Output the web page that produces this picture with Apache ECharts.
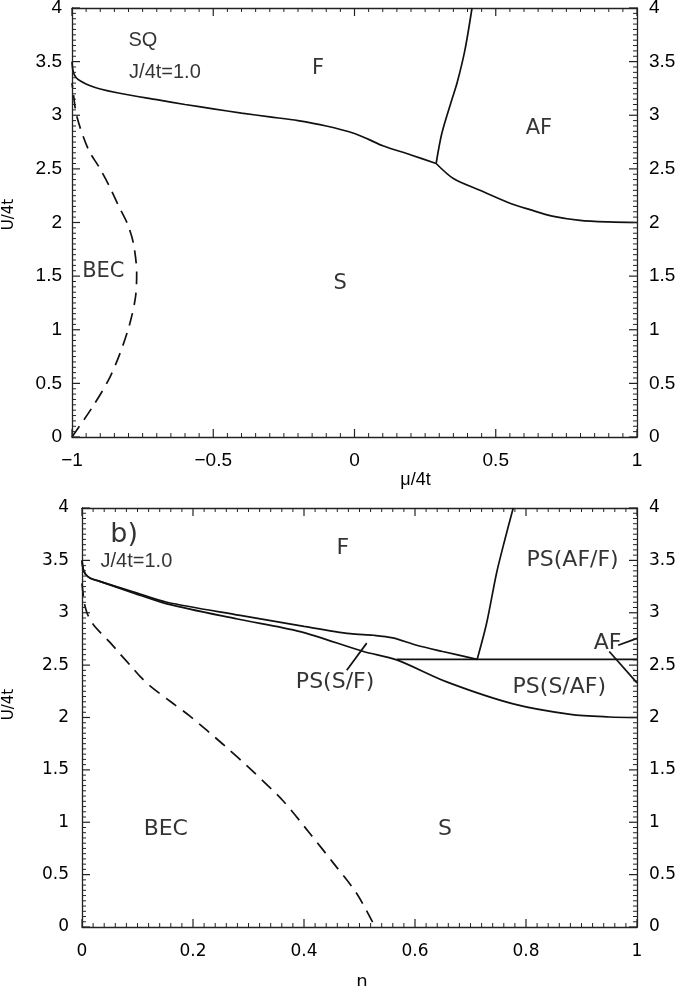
<!DOCTYPE html>
<html><head><meta charset="utf-8">
<script src="https://cdn.jsdelivr.net/npm/echarts@6/dist/echarts.min.js"></script>
<style>html,body{margin:0;padding:0;background:#fff}#c{width:685px;height:986px}</style>
</head><body><div id="c"></div>
<script>
// ---- Panel a) : U/4t vs mu/4t ----
const aSolidUpper = [[-1,3.5],[-0.998,3.44],[-0.994,3.39],[-0.985,3.35],[-0.97,3.32],[-0.94,3.28],[-0.9,3.245],[-0.84,3.21],[-0.7,3.145],[-0.6,3.10],[-0.5,3.06],[-0.4,3.02],[-0.3,2.985],[-0.2,2.95],[-0.1,2.90],[0,2.83],[0.05,2.775],[0.1,2.715],[0.2,2.63],[0.289,2.55]];
const aSolidAFLeft = [[0.289,2.55],[0.309,2.83],[0.344,3.14],[0.363,3.30],[0.391,3.61],[0.416,4.0]];
const aSolidAFLower = [[0.289,2.55],[0.35,2.41],[0.444,2.30],[0.55,2.18],[0.621,2.12],[0.7,2.06],[0.798,2.02],[0.9,2.005],[1,2.0]];
const aDashedBEC = [[-1,0],[-0.93,0.27],[-0.871,0.53],[-0.83,0.78],[-0.795,1.06],[-0.775,1.31],[-0.771,1.53],[-0.783,1.81],[-0.804,1.99],[-0.836,2.16],[-0.87,2.35],[-0.905,2.52],[-0.942,2.68],[-0.983,2.99],[-0.997,3.24],[-1,3.3]];
const aLabels = [[-0.749,3.70,'SQ'],[-0.671,3.40,'J/4t=1.0'],[-0.129,3.44,'F'],[0.653,2.88,'AF'],[-0.889,1.54,'BEC'],[-0.051,1.43,'S']];
const aXTicks = [-1,-0.5,0,0.5,1];
const aXMinorStep = 0.05;

// ---- Panel b) : U/4t vs n ----
const bSolidUpper = [[0,3.5],[0.002,3.42],[0.006,3.37],[0.015,3.33],[0.032,3.30],[0.092,3.20],[0.153,3.10],[0.285,2.975],[0.4,2.87],[0.483,2.80],[0.525,2.785],[0.56,2.76],[0.603,2.69],[0.65,2.63],[0.712,2.555]];
const bSolidLower = [[0,3.5],[0.002,3.42],[0.006,3.37],[0.015,3.33],[0.032,3.30],[0.092,3.19],[0.153,3.085],[0.28,2.94],[0.393,2.82],[0.507,2.63],[0.567,2.55],[0.657,2.34],[0.777,2.13],[0.88,2.03],[0.95,2.005],[1,2.0]];
const bHorizontal = [[0.567,2.555],[1,2.555]];
const bAFFBoundary = [[0.712,2.555],[0.729,2.90],[0.747,3.38],[0.762,3.70],[0.777,4.0]];
const bAFUpper = [[0.966,2.69],[1,2.755]];
const bAFLower = [[0.950,2.63],[1,2.33]];
const bPointer = [[0.477,2.45],[0.513,2.71]];
const bDashedBEC = [[0,3.28],[0.004,3.10],[0.0096,2.99],[0.02,2.89],[0.035,2.80],[0.05,2.72],[0.068,2.61],[0.09,2.48],[0.105,2.39],[0.123,2.30],[0.16,2.15],[0.195,2.01],[0.255,1.74],[0.309,1.48],[0.363,1.20],[0.411,0.89],[0.453,0.61],[0.495,0.32],[0.528,0]];
const bLabels = [[0.098,3.49,'J/4t=1.0'],[0.470,3.62,'F'],[0.884,3.50,'PS(AF/F)'],[0.947,2.71,'AF'],[0.456,2.34,'PS(S/F)'],[0.860,2.29,'PS(S/AF)'],[0.151,0.93,'BEC'],[0.654,0.93,'S']];
const bTitle = [[0.076,3.74,'b)']];
const bXTicks = [0,0.2,0.4,0.6,0.8,1];
const bXMinorStep = 0.02;
const yTicks = [0,0.5,1,1.5,2,2.5,3,3.5,4];
const yMinorStep = 0.05;

const chart = echarts.init(document.getElementById('c'), null, {renderer:'canvas'});
const axisCol = '#222';
const fontTick = {fontFamily:'Liberation Sans', fontSize:19, color:'#000'};
const fontTickB = {fontFamily:'DejaVu Sans', fontSize:17, color:'#000'};

function xAx(grid, min, max, interval, show, tf, margin) {
  return {
    type:'value', gridIndex:grid, min:min, max:max, interval:interval,
    axisLine:{show:true, onZero:false, lineStyle:{color:axisCol, width:1.3}},
    axisTick:{show:false}, minorTick:{show:false},
    splitLine:{show:false},
    axisLabel:{show:show, margin:margin, ...tf, formatter:v=>String(v).replace('-', '\u2212')}
  };
}
function yAx(grid, show, tf, margin) {
  return {
    type:'value', gridIndex:grid, min:0, max:4, interval:0.5,
    axisLine:{show:true, onZero:false, lineStyle:{color:axisCol, width:1.3}},
    axisTick:{show:false}, minorTick:{show:false},
    splitLine:{show:false},
    axisLabel:{show:show, margin:margin, ...tf}
  };
}

function line(data, xi, yi, dashed) {
  return {type:'line', data:data, xAxisIndex:xi, yAxisIndex:yi, showSymbol:false, symbol:'none',
    smooth:0.3, silent:true, clip:true,
    lineStyle:{color:'#111', width:1.7, type: dashed ? [13,8] : 'solid'}};
}
function labels(arr, xi, yi, size, ff) {
  return {type:'scatter', xAxisIndex:xi, yAxisIndex:yi, symbolSize:0, silent:true,
    data: arr.map(d=>({value:[d[0],d[1]], name:d[2]})),
    label:{show:true, position:'inside', formatter:p=>p.name, color:'#000', fontSize:size, fontFamily:ff}};
}

// tick marks drawn on all four frame edges, placed through the axes' scales
function steps(min, max, step) {
  const out = []; const n = Math.round((max - min) / step);
  for (let i = 0; i <= n; i++) out.push(+(min + i * step).toFixed(6));
  return out;
}
function tickSeries(xi, yi, xMin, xMax, xMajor, xStep) {
  const isMajor = (v, majors) => majors.some(m => Math.abs(m - v) < 1e-6) ? 1 : 0;
  const data = [];
  steps(xMin, xMax, xStep).forEach(v => data.push([v, 0, 0, isMajor(v, xMajor)]));
  steps(0, 4, yMinorStep).forEach(v => data.push([xMin, v, 1, isMajor(v, yTicks)]));
  return {
    type:'custom', xAxisIndex:xi, yAxisIndex:yi, silent:true, clip:false, z:10,
    data:data,
    renderItem:function(params, api){
      const x = api.value(0), y = api.value(1), kind = api.value(2), major = api.value(3);
      const len = major ? 8 : 4;
      const st = {stroke:'#222', lineWidth: major ? 1.2 : 1};
      if (kind === 0) {
        const b = api.coord([x, 0]), t = api.coord([x, 4]);
        return {type:'group', children:[
          {type:'line', shape:{x1:b[0], y1:b[1], x2:b[0], y2:b[1]-len}, style:st},
          {type:'line', shape:{x1:t[0], y1:t[1], x2:t[0], y2:t[1]+len}, style:st}]};
      }
      const l = api.coord([xMin, y]), r = api.coord([xMax, y]);
      return {type:'group', children:[
        {type:'line', shape:{x1:l[0], y1:l[1], x2:l[0]+len, y2:l[1]}, style:st},
        {type:'line', shape:{x1:r[0], y1:r[1], x2:r[0]-len, y2:r[1]}, style:st}]};
    }
  };
}

const xA = xAx(0,-1,1,0.5,true,fontTick,14);
xA.position = 'bottom';
xA.name = 'μ/4t'; xA.nameLocation='middle'; xA.nameGap=15;
xA.nameTextStyle = {fontFamily:'Liberation Sans', fontSize:18, color:'#000', padding:[0,0,0,122]};
const xA2 = xAx(0,-1,1,0.5,false,fontTick,14); xA2.position='top';
const xB = xAx(1,0,1,0.2,true,fontTickB,16);
xB.position = 'bottom';
xB.name = 'n'; xB.nameLocation='middle'; xB.nameGap=46;
xB.nameTextStyle = {fontFamily:'DejaVu Sans', fontSize:18, color:'#000', padding:[0,0,0,5]};
const xB2 = xAx(1,0,1,0.2,false,fontTickB,16); xB2.position='top';
const yA = yAx(0,true,fontTick,10);
yA.position='left';
yA.name='U/4t'; yA.nameLocation='middle'; yA.nameGap=55; yA.nameRotate=90;
yA.nameTextStyle={fontFamily:'DejaVu Sans', fontSize:15, color:'#000', padding:[0,0,0,16]};
const yA2 = yAx(0,true,fontTick,12); yA2.position='right';
const yB = yAx(1,true,fontTickB,13);
yB.position='left';
yB.name='U/4t'; yB.nameLocation='middle'; yB.nameGap=65; yB.nameRotate=90;
yB.nameTextStyle={fontFamily:'DejaVu Sans', fontSize:15, color:'#000', padding:[0,0,0,26]};
const yB2 = yAx(1,true,fontTickB,12); yB2.position='right';

const option = {
  backgroundColor:'#fff',
  animation:false,
  grid:[{left:72, right:48, top:8, height:429, outerBoundsMode:'none'},
        {left:82, right:48, top:508, height:419, outerBoundsMode:'none'}],
  xAxis:[xA, xA2, xB, xB2],
  yAxis:[yA, yA2, yB, yB2],
  series:[
    line(aSolidUpper,0,0), line(aSolidAFLeft,0,0), line(aSolidAFLower,0,0), line(aDashedBEC,0,0,true),
    labels(aLabels.slice(0,1),0,0,20,'Liberation Sans'), labels(aLabels.slice(1,2),0,0,20,'Liberation Sans'),
    labels(aLabels.slice(2),0,0,21,'DejaVu Sans'),
    tickSeries(0,0,-1,1,aXTicks,aXMinorStep),
    line(bSolidUpper,2,2), line(bSolidLower,2,2), line(bHorizontal,2,2), line(bAFFBoundary,2,2),
    line(bAFUpper,2,2), line(bAFLower,2,2), line(bPointer,2,2), line(bDashedBEC,2,2,true),
    labels(bLabels.slice(0,1),2,2,20,'Liberation Sans'), labels(bLabels.slice(1),2,2,22,'DejaVu Sans'),
    labels(bTitle,2,2,27,'DejaVu Sans'),
    tickSeries(2,2,0,1,bXTicks,bXMinorStep)
  ]
};
chart.setOption(option);
</script></body></html>
